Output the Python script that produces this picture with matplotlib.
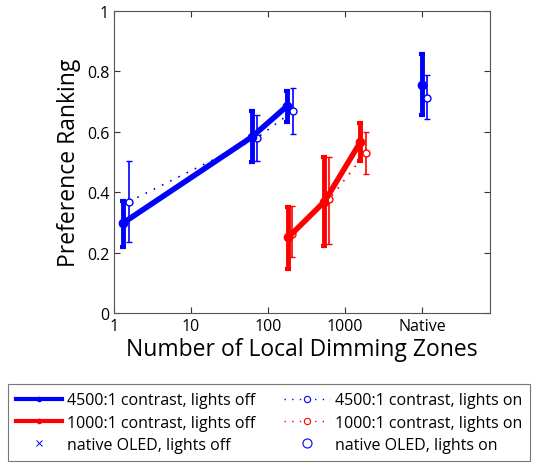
import matplotlib
matplotlib.use("Agg")
import matplotlib.pyplot as plt
from matplotlib.lines import Line2D

plt.rcParams['font.family'] = ['Open Sans', 'DejaVu Sans']

# 4500:1 contrast
blue_off_x = [1.31, 61, 178]
blue_off_y = [0.298, 0.582, 0.686]
blue_off_lo = [0.22, 0.50, 0.631]
blue_off_hi = [0.372, 0.668, 0.736]

blue_on_x = [1.57, 71, 210]
blue_on_y = [0.369, 0.579, 0.668]
blue_on_lo = [0.235, 0.502, 0.593]
blue_on_hi = [0.504, 0.654, 0.745]

# 1000:1 contrast
red_off_x = [184, 540, 1570]
red_off_y = [0.251, 0.369, 0.565]
red_off_lo = [0.146, 0.221, 0.504]
red_off_hi = [0.35, 0.516, 0.629]

red_on_x = [207, 625, 1860]
red_on_y = [0.262, 0.377, 0.531]
red_on_lo = [0.185, 0.228, 0.46]
red_on_hi = [0.355, 0.516, 0.60]

# native OLED
oled_off_x = [10000]
oled_off_y = [0.756]
oled_off_lo = [0.656]
oled_off_hi = [0.858]

oled_on_x = [11500]
oled_on_y = [0.712]
oled_on_lo = [0.642]
oled_on_hi = [0.789]

xticks = [1, 10, 100, 1000, 10000]
xticklabels = ['1', '10', '100', '1000', 'Native']
yticks = [0, 0.2, 0.4, 0.6, 0.8, 1]
yticklabels = ['0', '0.2', '0.4', '0.6', '0.8', '1']

DOT = (0, (1, 4.5))


def err(y, lo, hi):
    return [[a - b for a, b in zip(y, lo)], [b - a for a, b in zip(y, hi)]]


fig = plt.figure(figsize=(5.33, 4.64), dpi=100)
ax = fig.add_axes([114 / 533, 1 - 314 / 464, 376 / 533, 302 / 464])

thick = dict(lw=4, marker='o', ms=6, elinewidth=3.5, capsize=2, capthick=3)
thin = dict(lw=1.2, ls=DOT, marker='o', ms=5, mfc='white', mew=1,
            elinewidth=1.2, capsize=2.2, capthick=1)

ax.errorbar(blue_on_x, blue_on_y, yerr=err(blue_on_y, blue_on_lo, blue_on_hi),
            color='blue', **thin)
ax.errorbar(red_on_x, red_on_y, yerr=err(red_on_y, red_on_lo, red_on_hi),
            color='red', **thin)
ax.errorbar(oled_on_x, oled_on_y, yerr=err(oled_on_y, oled_on_lo, oled_on_hi),
            color='blue', **thin)
ax.errorbar(blue_off_x, blue_off_y, yerr=err(blue_off_y, blue_off_lo, blue_off_hi),
            color='blue', **thick)
ax.errorbar(red_off_x, red_off_y, yerr=err(red_off_y, red_off_lo, red_off_hi),
            color='red', **thick)
ax.errorbar(oled_off_x, oled_off_y, yerr=err(oled_off_y, oled_off_lo, oled_off_hi),
            color='blue', **thick)

ax.set_xscale('log')
ax.set_xlim(1, 76000)
ax.set_ylim(0, 1)
ax.set_xticks(xticks)
ax.set_xticklabels(xticklabels)
ax.minorticks_off()
ax.set_yticks(yticks)
ax.set_yticklabels(yticklabels)
ax.tick_params(direction='in', top=True, right=True, labelsize=11.5,
               length=4, width=0.8, colors='#333333', labelcolor='black')
for s in ax.spines.values():
    s.set_color('#555555')
    s.set_linewidth(0.8)
ax.set_xlabel('Number of Local Dimming Zones', fontsize=16.5, labelpad=2)
ax.set_ylabel('Preference Ranking', fontsize=16.5, labelpad=4)

handles = [
    Line2D([], [], color='blue', lw=3, marker='o', ms=3),
    Line2D([], [], color='red', lw=3, marker='o', ms=3),
    Line2D([], [], color='blue', ls='none', marker='x', ms=4.5, mew=0.7),
    Line2D([], [], color='blue', ls=DOT, lw=1, marker='o', ms=4.5, mfc='white', mew=0.8),
    Line2D([], [], color='red', ls=DOT, lw=1, marker='o', ms=4.5, mfc='white', mew=0.8),
    Line2D([], [], color='blue', ls='none', marker='o', ms=6.5, mfc='none', mew=0.8),
]
labels = ['4500:1 contrast, lights off', '1000:1 contrast, lights off',
          'native OLED, lights off', '4500:1 contrast, lights on',
          '1000:1 contrast, lights on', 'native OLED, lights on']
leg = fig.legend(handles, labels, ncol=2, loc='lower left',
                 bbox_to_anchor=(8 / 533, 2 / 464, 522 / 533, 78 / 464),
                 mode='expand', fontsize=11.5, frameon=True, fancybox=False,
                 handlelength=2.9, handletextpad=0.3, labelspacing=0.4,
                 borderaxespad=0, borderpad=0.5, numpoints=1)
leg.get_frame().set_edgecolor('#555555')
leg.get_frame().set_linewidth(0.8)

fig.savefig('out.png', dpi=100)
